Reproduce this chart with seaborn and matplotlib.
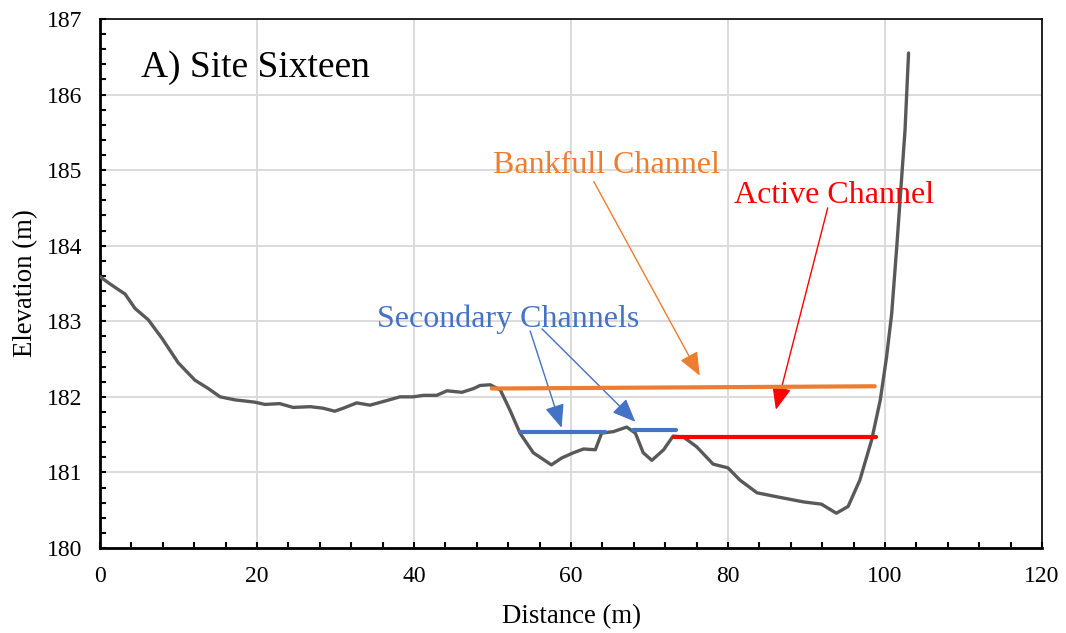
import numpy as np
import pandas as pd
import matplotlib
matplotlib.use("Agg")
import matplotlib.pyplot as plt
from matplotlib.ticker import MultipleLocator
import seaborn as sns

# ground profile
distance = [0.0, 1.06, 2.33, 3.2, 4.46, 6.15, 7.86, 9.97, 12.1, 13.8, 15.3,
            17.2, 19.7, 21.0, 22.9, 24.6, 26.8, 28.4, 29.9, 31.0, 32.7, 34.4,
            36.5, 38.2, 39.9, 41.2, 42.9, 44.2, 46.1, 47.6, 48.4, 49.7, 51.0,
            52.2, 53.5, 55.2, 57.5, 58.8, 60.3, 61.6, 63.1, 63.9, 65.4, 67.1,
            68.2, 69.2, 70.3, 71.8, 73.0, 74.3, 76.0, 78.1, 80.0, 81.5, 83.7,
            86.6, 89.6, 91.9, 93.8, 95.3, 96.8, 98.3, 99.4, 100.2, 100.85,
            101.5, 102.1, 102.55, 103.0]
elevation = [183.59, 183.51, 183.42, 183.36, 183.17, 183.02, 182.78, 182.45,
             182.22, 182.11, 182.00, 181.96, 181.93, 181.90, 181.91, 181.86,
             181.87, 181.85, 181.81, 181.85, 181.92, 181.89, 181.95, 182.00,
             182.00, 182.02, 182.02, 182.08, 182.06, 182.11, 182.15, 182.16,
             182.09, 181.83, 181.52, 181.26, 181.10, 181.19, 181.26, 181.31,
             181.30, 181.52, 181.54, 181.60, 181.52, 181.26, 181.16, 181.30,
             181.48, 181.47, 181.34, 181.11, 181.06, 180.90, 180.73, 180.67,
             180.61, 180.58, 180.46, 180.55, 180.90, 181.43, 181.96, 182.53,
             183.10, 183.99, 184.87, 185.53, 186.55]

# water levels (start/end distance, start/end elevation)
bankfull_x = [49.9, 98.7]
bankfull_y = [182.11, 182.14]
secondary1_x = [53.5, 64.3]
secondary1_y = [181.53, 181.53]
secondary2_x = [67.9, 73.4]
secondary2_y = [181.56, 181.56]
active_x = [73.1, 98.85]
active_y = [181.47, 181.47]

grey = "#595959"
orange = "#ED7D31"
blue = "#4472C4"
red = "#FF0000"

sns.set_theme(style="white")
plt.rcParams["font.family"] = ["Liberation Serif", "DejaVu Serif"]

fig = plt.figure(figsize=(10.66, 6.33), dpi=100)
ax = fig.add_axes([0.0938, 0.1343, 0.8837, 0.8357])

profile = pd.DataFrame({"Distance": distance, "Elevation": elevation})
sns.lineplot(data=profile, x="Distance", y="Elevation", sort=False,
             estimator=None, color=grey, linewidth=2.4, ax=ax, zorder=3,
             solid_joinstyle="round", solid_capstyle="round")

for xs, ys, c in [(bankfull_x, bankfull_y, orange),
                  (secondary1_x, secondary1_y, blue),
                  (secondary2_x, secondary2_y, blue),
                  (active_x, active_y, red)]:
    sns.lineplot(x=xs, y=ys, color=c, linewidth=3, ax=ax, zorder=4)

ax.set_xlim(0, 120)
ax.set_ylim(180, 187)
ax.xaxis.set_major_locator(MultipleLocator(20))
ax.xaxis.set_minor_locator(MultipleLocator(4))
ax.yaxis.set_major_locator(MultipleLocator(1))
ax.yaxis.set_minor_locator(MultipleLocator(0.2))
ax.grid(True, which="major", color="#d9d9d9", linewidth=1.3)
ax.set_axisbelow(True)

ax.tick_params(which="both", direction="in", length=4, width=1.5,
               color="black", bottom=True, left=True, top=False, right=False)
ax.tick_params(which="major", labelsize=17, pad=13, labelcolor="black")
for side in ["left", "bottom"]:
    ax.spines[side].set_linewidth(2)
    ax.spines[side].set_color("black")
for side in ["top", "right"]:
    ax.spines[side].set_linewidth(1.2)
    ax.spines[side].set_color("black")

ax.set_xlabel("Distance (m)", fontsize=19.3, color="black", labelpad=12)
ax.set_ylabel("Elevation (m)", fontsize=19.3, color="black", labelpad=6)

ax.text(5.2, 186.36, "A) Site Sixteen", fontsize=27, va="center", ha="left",
        color="black")

arrow = dict(arrowstyle="-|>,head_length=1.2,head_width=0.5", lw=1,
             shrinkA=0, shrinkB=0)
ax.text(50.0, 185.06, "Bankfull Channel", fontsize=23, color=orange,
        va="center", ha="left")
ax.annotate("", xy=(76.4, 182.28), xytext=(62.9, 184.85),
            arrowprops=dict(arrow, color=orange))
ax.text(80.8, 184.66, "Active Channel", fontsize=23, color=red,
        va="center", ha="left")
ax.annotate("", xy=(86.1, 181.83), xytext=(92.7, 184.5),
            arrowprops=dict(arrow, color=red))
ax.text(35.3, 183.03, "Secondary Channels", fontsize=23, color=blue,
        va="center", ha="left")
ax.annotate("", xy=(58.8, 181.59), xytext=(54.8, 182.87),
            arrowprops=dict(arrow, color=blue))
ax.annotate("", xy=(68.2, 181.67), xytext=(56.3, 182.9),
            arrowprops=dict(arrow, color=blue))

fig.savefig("out.png", dpi=100, facecolor="white")
